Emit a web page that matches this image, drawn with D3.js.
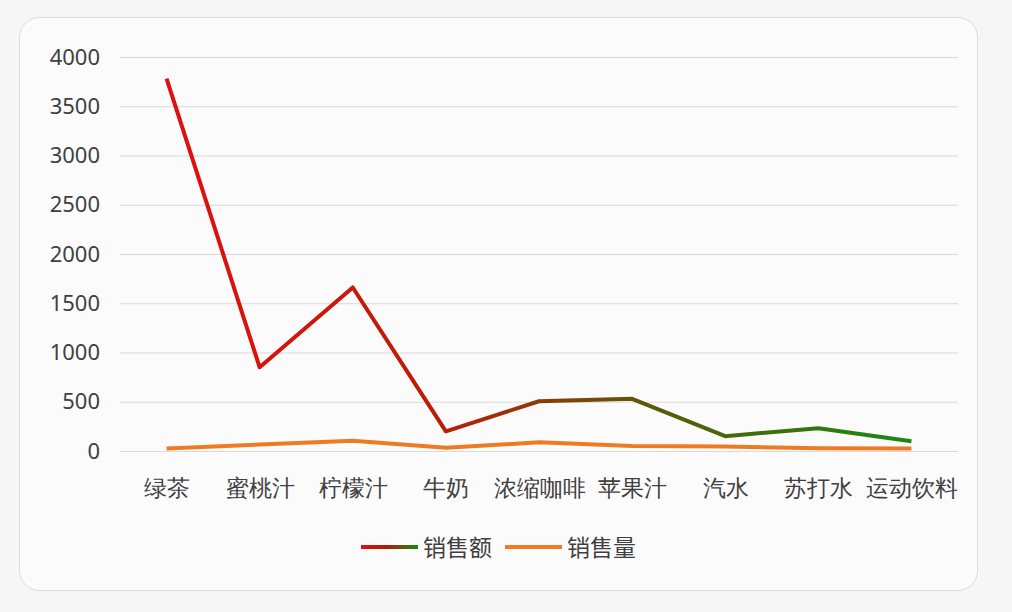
<!DOCTYPE html>
<html>
<head>
<meta charset="utf-8">
<script src="https://cdn.jsdelivr.net/npm/d3@7"></script>
<style>
  body { margin: 0; background: #f7f6f7; }
  svg { display: block; font-family: "Noto Sans CJK SC", "Noto Sans", sans-serif; }
</style>
</head>
<body>
<script>
var categories = ["绿茶", "蜜桃汁", "柠檬汁", "牛奶", "浓缩咖啡", "苹果汁", "汽水", "苏打水", "运动饮料"];
var salesAmount = [3780, 850, 1660, 200, 505, 530, 150, 232, 100];
var salesVolume = [25, 65, 105, 32, 88, 52, 46, 28, 25];
var yTicks = [0, 500, 1000, 1500, 2000, 2500, 3000, 3500, 4000];
var seriesNames = ["销售额", "销售量"];

var width = 1012, height = 612;
var margin = {left: 120, right: 54, top: 57, bottom: 161};

var svg = d3.select("body").append("svg").attr("width", width).attr("height", height);

// card
svg.append("rect")
  .attr("x", 19.5).attr("y", 17.5)
  .attr("width", 958).attr("height", 573)
  .attr("rx", 20).attr("ry", 20)
  .style("fill", "#fcfbfc")
  .style("stroke", "#dcdcdc")
  .style("stroke-width", 1);

var x = d3.scalePoint()
  .domain(categories)
  .range([margin.left, width - margin.right])
  .padding(0.5);

var y = d3.scaleLinear()
  .domain([0, 4000])
  .range([height - margin.bottom, margin.top]);

// grid + y labels
var yAxis = d3.axisLeft(y)
  .tickValues(yTicks)
  .tickFormat(d3.format("d"))
  .tickSize(-(width - margin.left - margin.right))
  .tickPadding(20);

var yg = svg.append("g")
  .attr("transform", "translate(" + margin.left + ",0)")
  .call(yAxis);
yg.select(".domain").remove();
yg.selectAll(".tick line").style("stroke", "#d9d9d9").style("stroke-width", 1);
yg.selectAll(".tick text")
  .style("font-family", "'Noto Sans', sans-serif")
  .style("font-size", "22px")
  .style("fill", "#404040");

// x labels
var xAxis = d3.axisBottom(x).tickSize(0).tickPadding(29);
var xg = svg.append("g")
  .attr("transform", "translate(0," + (height - margin.bottom) + ")")
  .call(xAxis);
xg.select(".domain").remove();
xg.selectAll(".tick text")
  .style("font-size", "23px")
  .style("fill", "#404040");

// gradient for 销售额
var defs = svg.append("defs");
var grad = defs.append("linearGradient")
  .attr("id", "amountGrad")
  .attr("gradientUnits", "userSpaceOnUse")
  .attr("x1", x(categories[0])).attr("x2", x(categories[categories.length - 1]))
  .attr("y1", 0).attr("y2", 0);
grad.append("stop").attr("offset", "0%").attr("stop-color", "#e01010");
grad.append("stop").attr("offset", "35%").attr("stop-color", "#c01a08");
grad.append("stop").attr("offset", "65%").attr("stop-color", "#5a5a05");
grad.append("stop").attr("offset", "100%").attr("stop-color", "#1a8a10");

var legGrad = defs.append("linearGradient")
  .attr("id", "legGrad")
  .attr("x1", "0%").attr("x2", "100%");
legGrad.append("stop").attr("offset", "0%").attr("stop-color", "#e01010");
legGrad.append("stop").attr("offset", "45%").attr("stop-color", "#b01a08");
legGrad.append("stop").attr("offset", "100%").attr("stop-color", "#1a8a10");

var line = d3.line()
  .x(function(d, i) { return x(categories[i]); })
  .y(function(d) { return y(d); });

svg.append("path")
  .datum(salesVolume)
  .attr("d", line)
  .style("fill", "none")
  .style("stroke", "#ee7b22")
  .style("stroke-width", 4)
  .style("stroke-linejoin", "round");

svg.append("path")
  .datum(salesAmount)
  .attr("d", line)
  .style("fill", "none")
  .style("stroke", "url(#amountGrad)")
  .style("stroke-width", 4)
  .style("stroke-linejoin", "round");

// legend
var legendY = 547;
var leg1 = svg.append("g").attr("transform", "translate(361," + legendY + ")");
leg1.append("rect").attr("x", 0).attr("y", -2).attr("width", 57).attr("height", 4)
  .style("fill", "url(#legGrad)");
leg1.append("text").attr("x", 62).attr("y", 9)
  .style("font-size", "23px").style("fill", "#404040")
  .text(seriesNames[0]);

var leg2 = svg.append("g").attr("transform", "translate(505," + legendY + ")");
leg2.append("line").attr("x1", 0).attr("x2", 57).attr("y1", 0).attr("y2", 0)
  .style("stroke", "#ee7b22").style("stroke-width", 4);
leg2.append("text").attr("x", 62).attr("y", 9)
  .style("font-size", "23px").style("fill", "#404040")
  .text(seriesNames[1]);
</script>
</body>
</html>
